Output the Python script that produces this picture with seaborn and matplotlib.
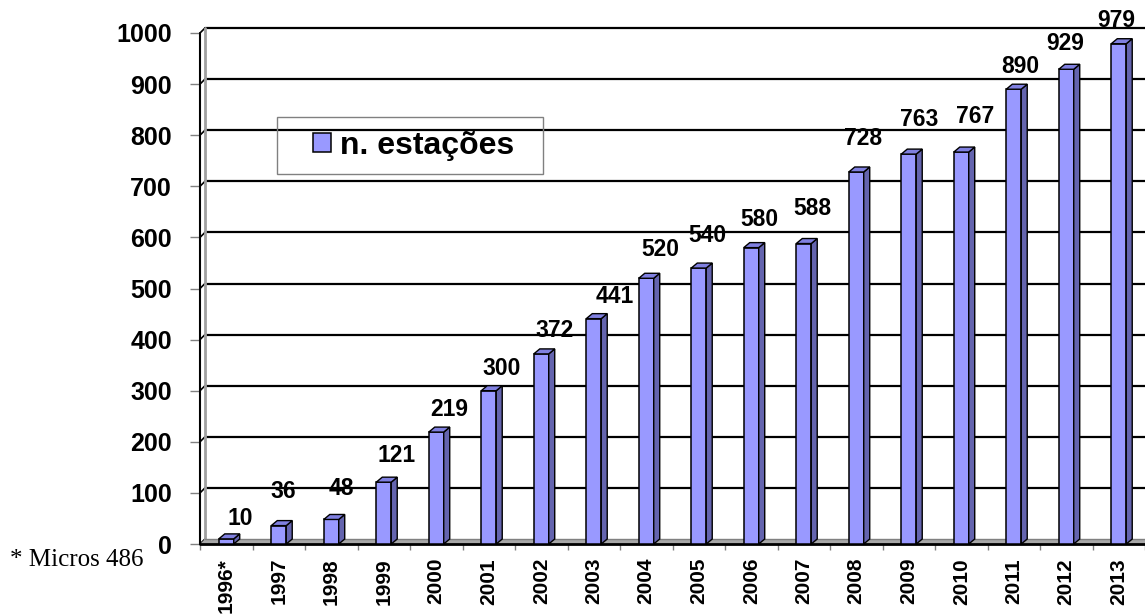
import numpy as np
import seaborn as sns
import matplotlib.pyplot as plt
from matplotlib.patches import Polygon, Rectangle

sns.set_style("white")
plt.rcParams["font.family"] = ["Liberation Sans", "DejaVu Sans"]
plt.rcParams.update({"text.color": "black", "xtick.color": "black",
                     "ytick.color": "black", "axes.labelcolor": "black"})

# dados
years = ["1996*", "1997", "1998", "1999", "2000", "2001", "2002", "2003", "2004",
         "2005", "2006", "2007", "2008", "2009", "2010", "2011", "2012", "2013"]
stations = [10, 36, 48, 121, 219, 300, 372, 441, 520,
            540, 580, 588, 728, 763, 767, 890, 929, 979]
y_ticks = list(range(0, 1001, 100))
legend_label = "n. estações"
footnote = "* Micros 486"

# posição manual dos rótulos (pixels, relativo ao topo da barra)
label_dx = [14, 4, 10, 13, 13, 13, 13, 21, 14, 9, 8, 9, 7, 10, 14, 7, -1, -2]
label_dy = [22, 36, 32, 28, 24, 24, 25, 24, 30, 34, 30, 37, 35, 36, 37, 24, 27, 25]

FRONT = "#9999FF"
SIDE = "#6464AE"
TOP = "#8080E0"
W, H = 1145, 616
BAR_DEPTH = (6, 5)   # px
WALL_DEPTH = (5, 5)  # px

fig = plt.figure(figsize=(W / 100, H / 100), dpi=100)
ax = fig.add_axes([200 / W, 72 / H, 945 / W, 511 / H])

sns.barplot(x=years, y=stations, color=FRONT, saturation=1, width=0.285,
            edgecolor="black", linewidth=1.1, label=legend_label, ax=ax, zorder=3)
ax.set_xlim(-0.5, len(years) - 0.5)
ax.set_ylim(0, 1000)
ax.set_xlabel("")
ax.set_ylabel("")
for s in ax.spines.values():
    s.set_visible(False)

# px -> unidades de dados
p0 = ax.transData.transform((0, 0))
p1 = ax.transData.transform((1, 100))
ux, uy = p1[0] - p0[0], (p1[1] - p0[1]) / 100
bdx, bdy = BAR_DEPTH[0] / ux, BAR_DEPTH[1] / uy
wdx, wdy = WALL_DEPTH[0] / ux, WALL_DEPTH[1] / uy
x_left, x_right = -0.5, len(years) - 0.5

# chão
ax.add_patch(Polygon([(x_left, 0), (x_right + 1, 0), (x_right + 1 + wdx, wdy), (x_left + wdx, wdy)],
                     closed=True, facecolor="#A8A8A8", edgecolor="none", zorder=1, clip_on=False))
ax.plot([x_left + wdx, x_right + 1], [wdy, wdy], color="#808080", lw=1, zorder=1.1, clip_on=False)
ax.plot([x_left, x_right + 1], [0, 0], color="black", lw=2, zorder=1.2, clip_on=False)

# parede do fundo + linhas de grade
for v in y_ticks[1:]:
    ax.plot([x_left + wdx, x_right + 1], [v + wdy, v + wdy], color="black", lw=1.6,
            zorder=0.8, clip_on=False)
for v in y_ticks:
    ax.plot([x_left, x_left + wdx], [v, v + wdy], color="black", lw=1.2, zorder=0.9, clip_on=False)
ax.plot([x_left + wdx] * 2, [wdy, 1000 + wdy], color="#A0A0A0", lw=2, zorder=0.9, clip_on=False)
ax.plot([x_left] * 2, [0, 1000], color="black", lw=1.5, zorder=1.3, clip_on=False)

# efeito 3D nas barras
for p in list(ax.patches)[:len(stations)]:
    x0, x1, h = p.get_x(), p.get_x() + p.get_width(), p.get_height()
    ax.add_patch(Polygon([(x1, 0), (x1 + bdx, bdy), (x1 + bdx, h + bdy), (x1, h)], closed=True,
                         facecolor=SIDE, edgecolor="black", lw=1.0, zorder=3, clip_on=False))
    ax.add_patch(Polygon([(x0, h), (x0 + bdx, h + bdy), (x1 + bdx, h + bdy), (x1, h)], closed=True,
                         facecolor=TOP, edgecolor="black", lw=1.0, zorder=3, clip_on=False))

# rótulos de valor
for i, v in enumerate(stations):
    ax.annotate(str(v), xy=(i, v), xytext=(label_dx[i], label_dy[i] - 8),
                textcoords="offset pixels", ha="center", va="baseline",
                fontsize=16.5, fontweight="bold", color="black", zorder=5)

# eixos
ax.set_yticks(y_ticks)
ax.set_yticklabels([str(t) for t in y_ticks], fontsize=18, fontweight="bold")
ax.tick_params(axis="y", left=True, length=7.2, width=1, color="#808080", labelcolor="black", pad=13)
ax.set_xticks(range(len(years)))
ax.set_xticklabels(years, rotation=90, fontsize=15, fontweight="bold")
ax.set_xticks(np.arange(-0.5, len(years), 1), minor=True)
ax.tick_params(axis="x", which="major", length=0, pad=10, labelcolor="black")
ax.tick_params(axis="x", which="minor", bottom=True, length=4.3, width=1, color="#808080")

# legenda
leg = ax.legend(loc="center", bbox_to_anchor=(414 / W, 1 - 146 / H), bbox_transform=fig.transFigure,
                frameon=False, fontsize=23, handlelength=0.56, handleheight=0.56,
                handletextpad=0.28, borderpad=0)
for t in leg.get_texts():
    t.set_fontweight("bold")
    t.set_color("black")
fig.add_artist(Rectangle((277 / W, 1 - 174 / H), 266 / W, 57 / H, transform=fig.transFigure,
                         facecolor="none", edgecolor="#808080", lw=1))

fig.text(10 / W, 1 - 560 / H, footnote, family=["Liberation Serif", "DejaVu Serif"],
         fontsize=18, ha="left", va="center", color="black")

fig.savefig("out.png", dpi=100)
